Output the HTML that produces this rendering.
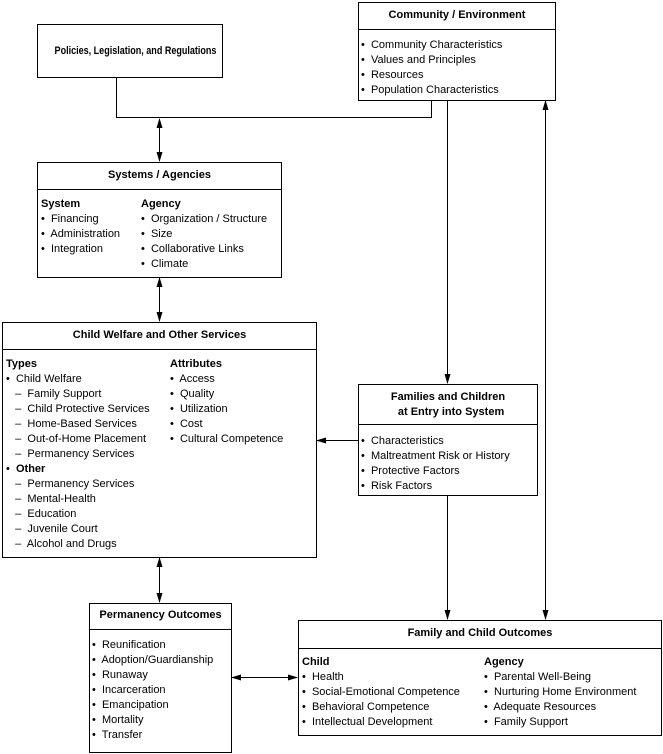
<!DOCTYPE html>
<html><head><style>
body{margin:0;width:663px;height:754px;background:#fff;position:relative;font-family:"Liberation Sans",sans-serif;font-size:11px;color:#000;overflow:hidden}
.b{position:absolute;border:1px solid #000;box-sizing:border-box;background:#fff}
.h{position:absolute;left:0;right:0;border-bottom:1px solid #000;font-weight:bold;text-align:center}
.t{position:absolute;white-space:pre;line-height:15px}
b{font-weight:bold}
</style></head><body>
<svg width="663" height="754" style="position:absolute;left:0;top:0">
<defs><marker id="a" markerWidth="10" markerHeight="8" refX="9" refY="4" orient="auto-start-reverse" markerUnits="userSpaceOnUse"><path d="M0,1 L10,4 L0,7z" fill="#000"/></marker></defs>
<g stroke="#000" stroke-width="1" fill="none">
<polyline points="116.5,77 116.5,117.5 431.5,117.5 431.5,100"/>
<line x1="159.5" y1="119" x2="159.5" y2="161" marker-start="url(#a)" marker-end="url(#a)"/>
<line x1="159.5" y1="278" x2="159.5" y2="321" marker-start="url(#a)" marker-end="url(#a)"/>
<line x1="159.5" y1="558" x2="159.5" y2="602" marker-start="url(#a)" marker-end="url(#a)"/>
<line x1="447.5" y1="100" x2="447.5" y2="383" marker-end="url(#a)"/>
<line x1="447.5" y1="495" x2="447.5" y2="619" marker-end="url(#a)"/>
<line x1="545.5" y1="101" x2="545.5" y2="619" marker-start="url(#a)" marker-end="url(#a)"/>
<line x1="358" y1="440.5" x2="317" y2="440.5" marker-end="url(#a)"/>
<line x1="232" y1="677.5" x2="297" y2="677.5" marker-start="url(#a)" marker-end="url(#a)"/>
</g></svg>

<div class="b" style="left:37px;top:24px;width:186px;height:54px"><div class="t" style="left:0;right:0;top:19px;text-align:center;font-weight:bold;transform:scaleX(0.82)">Policies, Legislation, and Regulations</div></div>

<div class="b" style="left:358px;top:2px;width:198px;height:99px"><div class="h" style="top:0;height:26px;line-height:25px">Community / Environment</div>
<div class="t" style="left:2px;top:35px">•  Community Characteristics
•  Values and Principles
•  Resources
•  Population Characteristics</div></div>

<div class="b" style="left:37px;top:162px;width:245px;height:116px"><div class="h" style="top:0;height:26px;line-height:25px">Systems / Agencies</div>
<div class="t" style="left:3px;top:34px"><b>System</b>
•  Financing
•  Administration
•  Integration</div>
<div class="t" style="left:103px;top:34px"><b>Agency</b>
•  Organization / Structure
•  Size
•  Collaborative Links
•  Climate</div></div>

<div class="b" style="left:2px;top:322px;width:315px;height:236px"><div class="h" style="top:0;height:26px;line-height:25px">Child Welfare and Other Services</div>
<div class="t" style="left:3px;top:34px"><b>Types</b>
•  Child Welfare
   –  Family Support
   –  Child Protective Services
   –  Home-Based Services
   –  Out-of-Home Placement
   –  Permanency Services
•  <b>Other</b>
   –  Permanency Services
   –  Mental-Health
   –  Education
   –  Juvenile Court
   –  Alcohol and Drugs</div>
<div class="t" style="left:167px;top:34px"><b>Attributes</b>
•  Access
•  Quality
•  Utilization
•  Cost
•  Cultural Competence</div></div>

<div class="b" style="left:358px;top:384px;width:180px;height:112px"><div class="h" style="top:0;height:40px;line-height:15px;padding-top:5px;box-sizing:border-box">Families and Children<br>&nbsp;&nbsp;at Entry into System</div>
<div class="t" style="left:2px;top:49px">•  Characteristics
•  Maltreatment Risk or History
•  Protective Factors
•  Risk Factors</div></div>

<div class="b" style="left:89px;top:603px;width:143px;height:150px"><div class="h" style="top:0;height:25px;line-height:23px">Permanency Outcomes</div>
<div class="t" style="left:2px;top:34px">•  Reunification
•  Adoption/Guardianship
•  Runaway
•  Incarceration
•  Emancipation
•  Mortality
•  Transfer</div></div>

<div class="b" style="left:298px;top:620px;width:364px;height:116px"><div class="h" style="top:0;height:27px;line-height:25px">Family and Child Outcomes</div>
<div class="t" style="left:3px;top:34px"><b>Child</b>
•  Health
•  Social-Emotional Competence
•  Behavioral Competence
•  Intellectual Development</div>
<div class="t" style="left:185px;top:34px"><b>Agency</b>
•  Parental Well-Being
•  Nurturing Home Environment
•  Adequate Resources
•  Family Support</div></div>
</body></html>
